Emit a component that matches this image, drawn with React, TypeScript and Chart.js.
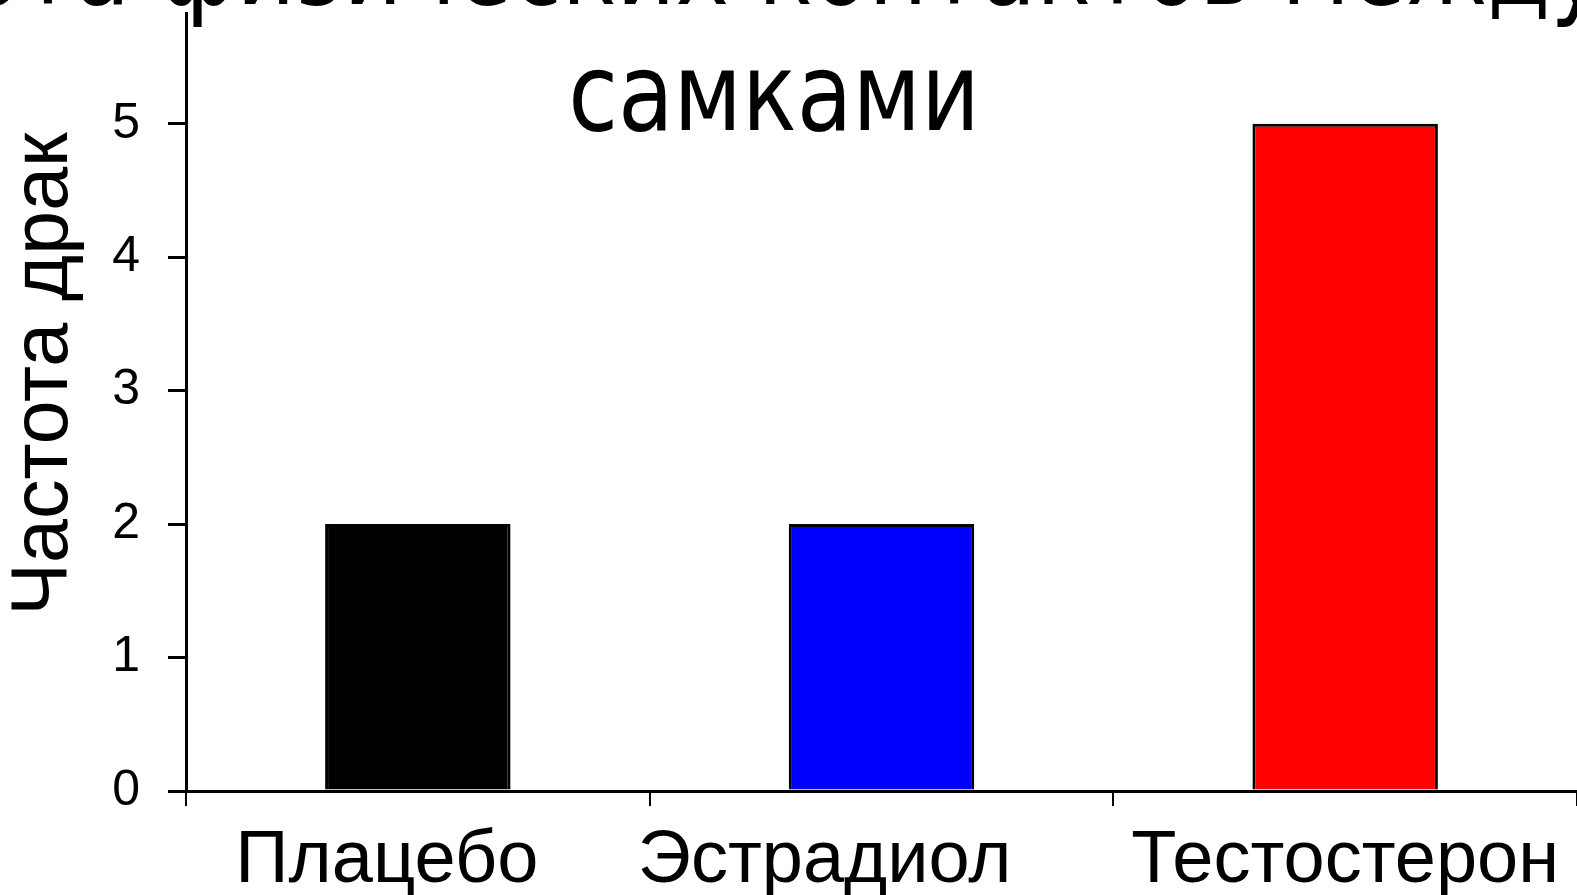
import React, { useEffect, useRef } from 'react';
import { Chart, registerables } from 'chart.js';

Chart.register(...registerables);

const categories = ['Плацебо', 'Эстрадиол', 'Тестостерон'];
const values = [2, 2, 5];
const barColors = ['#000000', '#0000ff', '#ff0000'];
const yTickValues = [0, 1, 2, 3, 4, 5];
const yMax = 5.83;
const titleLines = ['Частота физических контактов между', 'самками'];
const yAxisTitle = 'Частота драк';
// horizontal nudges of the category labels, as placed on the original slide
const xLabelShift = [-31, -57, 0];

export default function App() {
  const ref = useRef<HTMLCanvasElement>(null);

  useEffect(() => {
    if (!ref.current) return;

    const slideText = {
      id: 'slideText',
      afterDraw(chart: any) {
        const ctx = chart.ctx as CanvasRenderingContext2D;
        ctx.save();
        ctx.fillStyle = '#000000';

        // slide title (squeezed horizontally like the source slide)
        const sx = 0.84;
        ctx.save();
        ctx.scale(sx, 1);
        ctx.font = '108px "DejaVu Sans"';
        ctx.textBaseline = 'alphabetic';
        ctx.textAlign = 'right';
        ctx.fillText(titleLines[0], 1604 / sx, 4);
        ctx.textAlign = 'center';
        ctx.fillText(titleLines[1], 774 / sx, 130);
        ctx.restore();

        // y axis title
        ctx.save();
        ctx.translate(45, 374);
        ctx.rotate(-Math.PI / 2);
        ctx.font = '79px "Liberation Sans", Arial, sans-serif';
        ctx.textAlign = 'center';
        ctx.textBaseline = 'middle';
        ctx.fillText(yAxisTitle, 0, 0);
        ctx.restore();

        // category labels
        const xs = chart.scales.x;
        ctx.font = '74px "Liberation Sans", Arial, sans-serif';
        ctx.textAlign = 'center';
        ctx.textBaseline = 'alphabetic';
        categories.forEach((c, i) => {
          ctx.fillText(c, xs.getPixelForValue(i) + xLabelShift[i], 882);
        });

        ctx.restore();
      },
    };

    const chart = new Chart(ref.current, {
      type: 'bar',
      data: {
        labels: categories,
        datasets: [
          {
            data: values,
            backgroundColor: barColors,
            borderColor: '#000000',
            borderWidth: 3,
            barPercentage: 0.4,
            categoryPercentage: 1,
          },
        ],
      },
      options: {
        responsive: false,
        devicePixelRatio: 1,
        animation: false,
        layout: { padding: { top: 13, right: 0, left: 0, bottom: 0 } },
        plugins: {
          legend: { display: false },
          title: { display: false },
          tooltip: { enabled: false },
        },
        scales: {
          x: {
            offset: true,
            grid: {
              offset: true,
              drawOnChartArea: false,
              drawTicks: true,
              tickLength: 15,
              lineWidth: 2,
              color: '#000000',
            },
            border: { display: true, color: '#000000', width: 3 },
            ticks: { display: false },
            afterFit(scale: any) {
              scale.height = 104;
              scale.paddingLeft = 0;
              scale.paddingRight = 0;
            },
          },
          y: {
            min: 0,
            max: yMax,
            grid: {
              drawOnChartArea: false,
              drawTicks: true,
              tickLength: 18,
              lineWidth: 3,
              color: '#000000',
            },
            border: { display: true, color: '#000000', width: 3 },
            ticks: {
              stepSize: 1,
              color: '#000000',
              padding: 28,
              font: { family: '"Liberation Sans Narrow", "Liberation Sans", Arial, sans-serif', size: 50 },
            },
            afterBuildTicks(scale: any) {
              scale.ticks = yTickValues.map((v) => ({ value: v }));
            },
            afterFit(scale: any) {
              scale.width = 186;
              scale.paddingTop = 0;
              scale.paddingBottom = 0;
            },
          },
        },
      },
      plugins: [slideText],
    });

    return () => chart.destroy();
  }, []);

  return (
    <div style={{ position: 'absolute', left: 0, top: 0, width: 1577, height: 895, background: '#ffffff' }}>
      <canvas ref={ref} width={1577} height={895} style={{ width: 1577, height: 895, display: 'block' }} />
    </div>
  );
}
